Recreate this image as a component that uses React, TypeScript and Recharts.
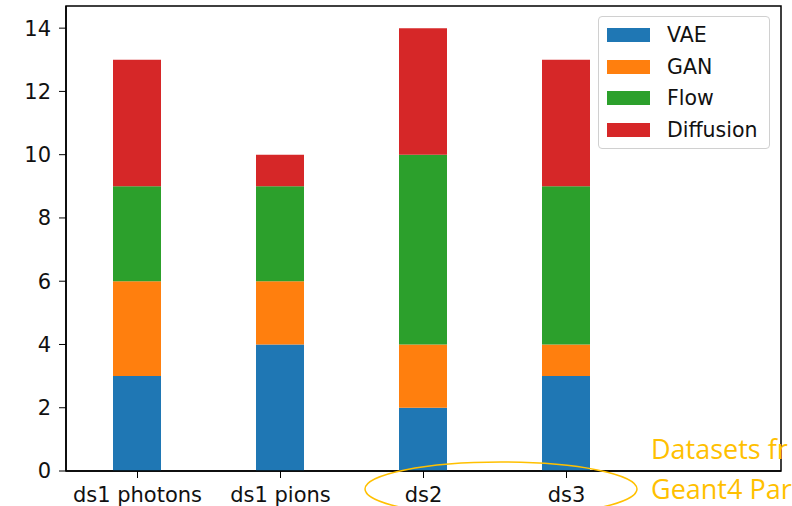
import { Bar, BarChart, ReferenceArea, XAxis, YAxis } from "recharts";

const datasets = ["ds1 photons", "ds1 pions", "ds2", "ds3"];
const vae = [3, 4, 2, 3];
const gan = [3, 2, 2, 1];
const flow = [3, 3, 6, 5];
const diffusion = [4, 1, 4, 4];
const yTicks = [0, 2, 4, 6, 8, 10, 12, 14];

const SERIES = [
  { key: "VAE", color: "#1f77b4" },
  { key: "GAN", color: "#ff7f0e" },
  { key: "Flow", color: "#2ca02c" },
  { key: "Diffusion", color: "#d62728" },
];

const FONT = "'DejaVu Sans', sans-serif";
const ANNOT = "#ffc000";

const data = datasets.map((name, i) => ({
  x: i,
  name,
  VAE: vae[i],
  GAN: gan[i],
  Flow: flow[i],
  Diffusion: diffusion[i],
}));

// matplotlib-style legend box, placed over the upper right of the axes
function LegendBox() {
  return (
    <div
      style={{
        position: "absolute",
        left: 598,
        top: 16,
        width: 172,
        boxSizing: "border-box",
        border: "1.5px solid #d0d0d0",
        borderRadius: 4,
        background: "#fff",
        padding: "2px 8px",
        fontFamily: FONT,
        fontSize: 20.5,
        color: "#111",
      }}
    >
      {SERIES.map((s) => (
        <div key={s.key} style={{ display: "flex", alignItems: "center", height: 31.7 }}>
          <span style={{ width: 43, height: 14, background: s.color, marginRight: 17 }} />
          <span>{s.key}</span>
        </div>
      ))}
    </div>
  );
}

export default function App() {
  return (
    <div style={{ position: "absolute", left: 0, top: 0, width: 792, height: 506, background: "#fff", overflow: "hidden" }}>
      <BarChart
        width={792}
        height={506}
        data={data}
        margin={{ top: 6, right: 11, bottom: 0, left: 0 }}
      >
        <XAxis
          dataKey="x"
          type="number"
          domain={[-0.5, 4.5]}
          ticks={[0, 1, 2, 3]}
          tickFormatter={(v: number) => datasets[v] ?? ""}
          height={35}
          tickSize={7}
          tickMargin={9}
          stroke="#000"
          tick={{ fill: "#111", fontSize: 21, fontFamily: FONT }}
          axisLine={{ stroke: "#000", strokeWidth: 1.5 }}
        />
        <YAxis
          type="number"
          domain={[0, 14.7]}
          ticks={yTicks}
          width={66}
          tickSize={7}
          tickMargin={8}
          stroke="#000"
          tick={{ fill: "#111", fontSize: 21, fontFamily: FONT }}
          axisLine={{ stroke: "#000", strokeWidth: 1.5 }}
        />
        {SERIES.map((s) => (
          <Bar key={s.key} dataKey={s.key} stackId="a" fill={s.color} barSize={48} isAnimationActive={false} />
        ))}
        <ReferenceArea x1={-0.5} x2={4.5} y1={0} y2={14.7} fill="none" stroke="#000" strokeWidth={1.5} />
      </BarChart>
      <LegendBox />
      <svg width={792} height={506} style={{ position: "absolute", left: 0, top: 0, pointerEvents: "none" }}>
        <ellipse cx={501} cy={489} rx={136} ry={27} fill="none" stroke={ANNOT} strokeWidth={1.5} />
        <text x={651} y={459} fill={ANNOT} fontSize={27} fontFamily="'Open Sans', sans-serif">
          Datasets fr
        </text>
        <text x={651} y={499} fill={ANNOT} fontSize={27} fontFamily="'Open Sans', sans-serif">
          Geant4 Par
        </text>
      </svg>
    </div>
  );
}
